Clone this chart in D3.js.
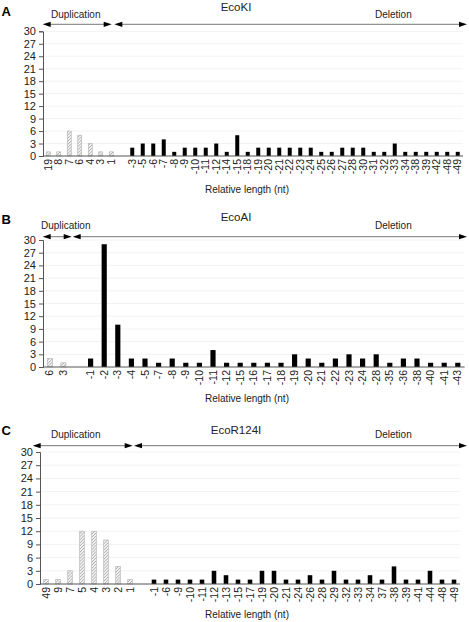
<!DOCTYPE html>
<html><head><meta charset="utf-8">
<script src="https://cdn.jsdelivr.net/npm/d3@7"></script>
<style>body{margin:0;background:#fff}svg{display:block;font-family:"Liberation Sans",Arial,sans-serif}</style>
</head><body><svg id="c" width="469" height="622"></svg>
<script>
// ---- Data ----
const ecoKI_dupLabels = ["19","8","7","6","4","3","1"];
const ecoKI_dupValues = [1,1,6,5,3,1,1];
const ecoKI_delLabels = ["-3","-5","-6","-7","-8","-9","-10","-11","-12","-14","-15","-18","-19","-20","-21","-22","-23","-24","-25","-26","-27","-28","-30","-31","-32","-33","-34","-38","-39","-42","-48","-49"];
const ecoKI_delValues = [2,3,3,4,1,2,2,2,3,1,5,1,2,2,2,2,2,2,1,1,2,2,2,1,1,3,1,1,1,1,1,1];

const ecoAI_dupLabels = ["6","3"];
const ecoAI_dupValues = [2,1];
const ecoAI_delLabels = ["-1","-2","-3","-4","-5","-7","-8","-9","-10","-11","-12","-15","-16","-17","-18","-19","-20","-21","-22","-23","-24","-28","-35","-36","-38","-40","-41","-43"];
const ecoAI_delValues = [2,29,10,2,2,1,2,1,1,4,1,1,1,1,1,3,2,1,2,3,2,3,1,2,2,1,1,1];

const ecoR124I_dupLabels = ["49","9","7","5","4","3","2","1"];
const ecoR124I_dupValues = [1,1,3,12,12,10,4,1];
const ecoR124I_delLabels = ["-1","-6","-9","-10","-11","-12","-13","-15","-17","-19","-20","-21","-24","-26","-28","-29","-32","-33","-34","37","-38","-39","-41","-44","-48","-49"];
const ecoR124I_delValues = [1,1,1,1,1,3,2,1,1,3,3,1,1,2,1,3,1,1,2,1,4,1,1,3,1,1];

const yTicks = [0,3,6,9,12,15,18,21,24,27,30];
const panelLetters = ["A","B","C"];
const panelTitles = ["EcoKI","EcoAI","EcoR124I"];
const xTitle = "Relative length (nt)";

// ---- Layout ----
const layouts = [
  {top:31.3, bottom:156, x0:43, x1:463, letterY:15.5, titleY:11, labelY:17.5, arrowY:24.3, dup:[42.7,111.7], del:[114.3,467], xTitleY:193, dupX:51},
  {top:240, bottom:367, x0:43, x1:464.6, letterY:223.5, titleY:221, labelY:228.5, arrowY:236.7, dup:[42.7,71.7], del:[72.7,467], xTitleY:402, dupX:41},
  {top:452, bottom:584, x0:40, x1:460, letterY:434.5, titleY:433.5, labelY:437.5, arrowY:445.7, dup:[32.7,132.7], del:[134,467], xTitleY:618, dupX:51}
];
const datasets = [
  [ecoKI_dupLabels, ecoKI_dupValues, ecoKI_delLabels, ecoKI_delValues],
  [ecoAI_dupLabels, ecoAI_dupValues, ecoAI_delLabels, ecoAI_delValues],
  [ecoR124I_dupLabels, ecoR124I_dupValues, ecoR124I_delLabels, ecoR124I_delValues]
];

const svg = d3.select("#c");
const defs = svg.append("defs");
const pat = defs.append("pattern").attr("id","hatch").attr("patternUnits","userSpaceOnUse")
  .attr("width",2.2).attr("height",2.2).attr("patternTransform","rotate(45)");
pat.append("rect").attr("width",2.2).attr("height",2.2).attr("fill","#f4f4f4");
pat.append("line").attr("x1",0).attr("y1",0).attr("x2",0).attr("y2",2.2).attr("stroke","#888").attr("stroke-width",1);

function arrowHead(g, x, y, dir){
  g.append("path").attr("d", `M${x},${y} L${x-dir*8},${y-2.6} L${x-dir*8},${y+2.6} Z`).attr("fill","#000");
}

datasets.forEach((ds, i) => {
  const L = layouts[i];
  const [dupL, dupV, delL, delV] = ds;
  const rows = [];
  dupL.forEach((l,j)=>rows.push({key:"d"+l, label:l, v:dupV[j], type:"dup"}));
  rows.push({key:"gap", label:"", v:null, type:"gap"});
  delL.forEach((l,j)=>rows.push({key:"x"+l, label:l, v:delV[j], type:"del"}));

  const x = d3.scaleBand().domain(rows.map(r=>r.key)).range([L.x0, L.x1]).paddingInner(0.62).paddingOuter(0.31);
  const y = d3.scaleLinear().domain([0,30]).range([L.bottom, L.top]);
  const g = svg.append("g");

  g.append("g").selectAll("line").data(yTicks.slice(1)).join("line")
    .attr("x1",L.x0).attr("x2",L.x1).attr("y1",d=>y(d)).attr("y2",d=>y(d))
    .attr("stroke","#f2f2f2").attr("stroke-width",1);

  g.append("g").selectAll("rect").data(rows.filter(r=>r.type!=="gap")).join("rect")
    .attr("x",r=>x(r.key)).attr("width",x.bandwidth())
    .attr("y",r=>y(r.v)).attr("height",r=>y(0)-y(r.v))
    .attr("fill",r=>r.type==="dup"?"url(#hatch)":"#000")
    .attr("stroke",r=>r.type==="dup"?"#b0b0b0":"none").attr("stroke-width",0.6);

  const ya = g.append("g").attr("transform",`translate(${L.x0},0)`)
    .call(d3.axisLeft(y).tickValues(yTicks).tickSize(4).tickPadding(3));
  ya.select(".domain").attr("stroke","#555");
  ya.selectAll(".tick line").attr("stroke","#555");
  ya.selectAll("text").attr("font-size","11px").attr("fill","#222").attr("font-family","Liberation Sans, Arial, sans-serif");

  const xa = g.append("g").attr("transform",`translate(0,${L.bottom})`)
    .call(d3.axisBottom(x).tickSize(0).tickFormat(k=>rows.find(r=>r.key===k).label));
  xa.select(".domain").attr("stroke","#555").attr("d",`M${L.x0},0H${L.x1}`);
  xa.selectAll("text").attr("font-size","10.5px").attr("fill","#222")
    .attr("font-family","Liberation Sans, Arial, sans-serif")
    .attr("transform","rotate(-90)").attr("text-anchor","end")
    .attr("x",-3).attr("y",0).attr("dy","0.35em");

  svg.append("text").attr("x",247).attr("y",L.xTitleY).attr("text-anchor","middle")
    .attr("font-size","10px").attr("fill","#222").text(xTitle);
  svg.append("text").attr("x",1.5).attr("y",L.letterY).attr("font-size","13px").attr("font-weight","bold")
    .attr("fill","#000").text(panelLetters[i]);
  svg.append("text").attr("x",236).attr("y",L.titleY).attr("text-anchor","middle")
    .attr("font-size","11.5px").attr("fill","#222").text(panelTitles[i]);
  svg.append("text").attr("x",L.dupX).attr("y",L.labelY).attr("font-size","10px").attr("fill","#222").text("Duplication");
  svg.append("text").attr("x",375).attr("y",L.labelY).attr("font-size","10px").attr("fill","#222").text("Deletion");
  const ag = svg.append("g");
  ag.append("line").attr("x1",L.dup[0]+4).attr("x2",L.dup[1]-4).attr("y1",L.arrowY).attr("y2",L.arrowY).attr("stroke","#777");
  arrowHead(ag, L.dup[0], L.arrowY, -1);
  arrowHead(ag, L.dup[1], L.arrowY, 1);
  ag.append("line").attr("x1",L.del[0]+4).attr("x2",L.del[1]-4).attr("y1",L.arrowY).attr("y2",L.arrowY).attr("stroke","#777");
  arrowHead(ag, L.del[0], L.arrowY, -1);
  arrowHead(ag, L.del[1], L.arrowY, 1);
});
</script></body></html>
